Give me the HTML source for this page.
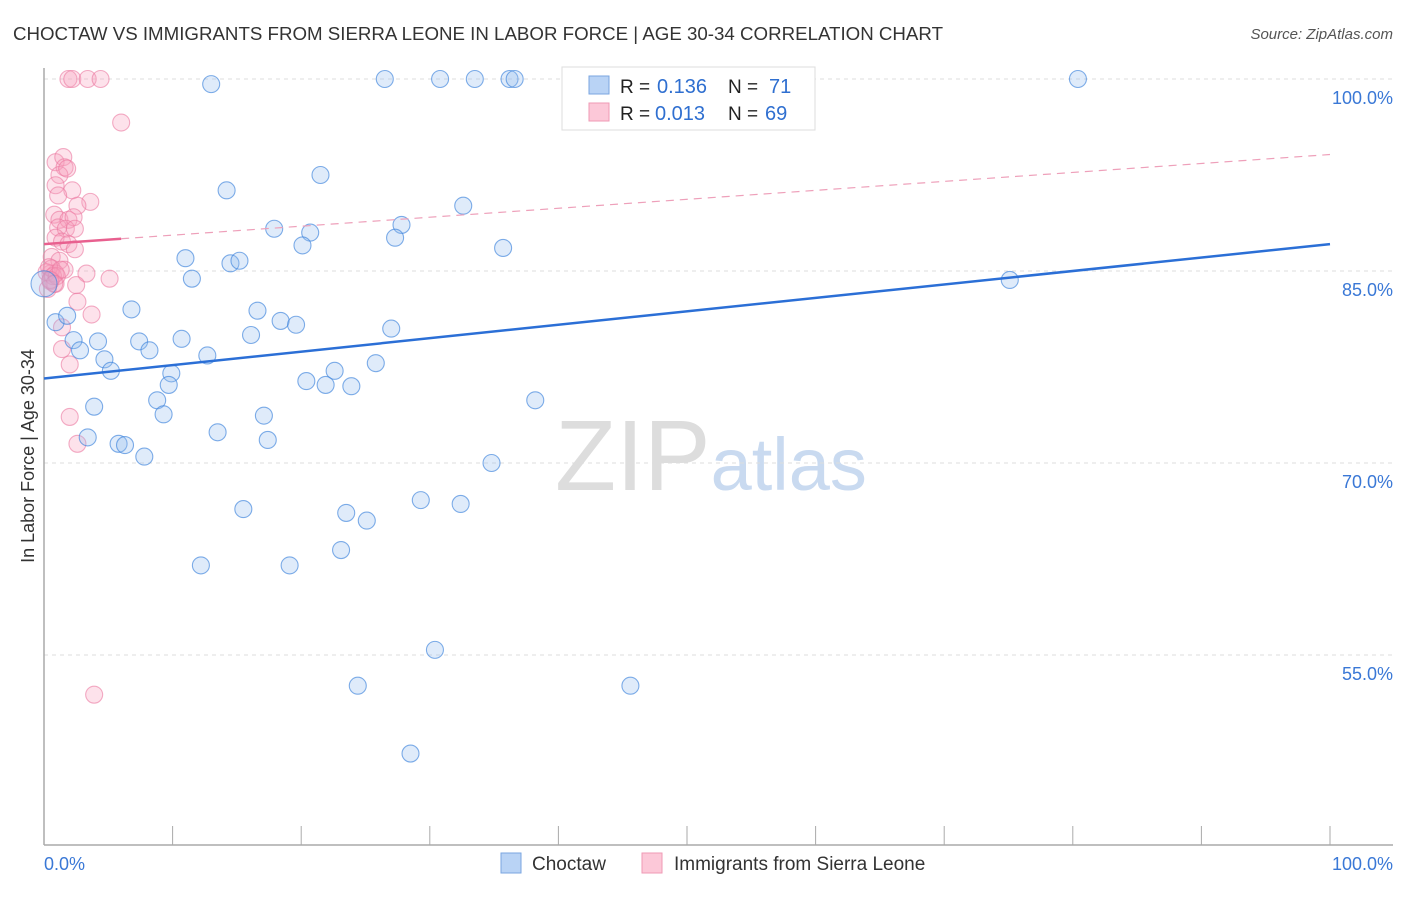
<!DOCTYPE html>
<html><head><meta charset="utf-8"><style>
body{margin:0;background:#fff;font-family:"Liberation Sans",sans-serif;}
svg text{font-family:"Liberation Sans",sans-serif;}
</style></head><body>
<svg id="chart" width="1406" height="892" xmlns="http://www.w3.org/2000/svg">
<text x="13" y="40" font-size="18" fill="#333" textLength="930" lengthAdjust="spacingAndGlyphs">CHOCTAW VS IMMIGRANTS FROM SIERRA LEONE IN LABOR FORCE | AGE 30-34 CORRELATION CHART</text>
<text x="1393" y="39" font-size="15" fill="#555" text-anchor="end" font-style="italic">Source: ZipAtlas.com</text>
<text x="555" y="490" font-size="100" fill="#ddd" font-family="Liberation Serif">ZIP<tspan fill="#c9daf0" font-family="Liberation Sans" font-size="74">atlas</tspan></text>
<text transform="translate(34,456) rotate(-90)" font-size="18" fill="#333" text-anchor="middle">In Labor Force | Age 30-34</text>
<g id="grid"></g><g id="axes"></g><g id="marks"></g>
<g>
<rect x="562" y="67" width="253" height="63" fill="#fff" stroke="#ddd"/>
<rect x="589" y="76" width="20" height="18" fill="#b9d3f5" stroke="#7aa6e0"/>
<rect x="589" y="103" width="20" height="18" fill="#fcc8d8" stroke="#ef9ab5"/>
<text x="620" y="93" font-size="19" fill="#222">R = </text>
<text x="657" y="93" font-size="20" fill="#2f6fd0">0.136</text>
<text x="728" y="93" font-size="19" fill="#222">N = </text>
<text x="769" y="93" font-size="20" fill="#2f6fd0">71</text>
<text x="620" y="120" font-size="19" fill="#222">R = </text>
<text x="655" y="120" font-size="20" fill="#2f6fd0">0.013</text>
<text x="728" y="120" font-size="19" fill="#222">N = </text>
<text x="765" y="120" font-size="20" fill="#2f6fd0">69</text>
</g>
<g>
<rect x="501" y="853" width="20" height="20" fill="#b9d3f5" stroke="#7aa6e0"/>
<text x="532" y="870" font-size="19" fill="#333">Choctaw</text>
<rect x="642" y="853" width="20" height="20" fill="#fcc8d8" stroke="#ef9ab5"/>
<text x="674" y="870" font-size="19" fill="#333">Immigrants from Sierra Leone</text>
</g>
</svg>
<script>
const yTicks=[100,85,70,55];
const xTickLabels=["0.0%","100.0%"];
const blueX=[13.0,26.5,30.8,33.5,36.2,36.6,80.4,14.2,21.5,32.6,17.9,20.7,20.1,27.8,27.3,35.7,11.0,14.5,15.2,11.5,75.1,6.8,16.6,18.4,19.6,27.0,0.9,1.8,2.3,4.2,7.4,10.7,16.1,2.8,8.2,4.7,5.2,12.7,9.9,9.7,20.4,22.6,21.9,23.9,25.8,8.8,9.3,3.9,38.2,17.1,13.5,17.4,3.4,5.8,6.3,7.8,34.8,29.3,32.4,15.5,23.5,25.1,23.1,12.2,19.1,30.4,24.4,45.6,28.5,0.0];
const blueY=[99.6,100,100,100,100,100,100,91.3,92.5,90.1,88.3,88.0,87.0,88.6,87.6,86.8,86.0,85.6,85.8,84.4,84.3,82.0,81.9,81.1,80.8,80.5,81.0,81.5,79.6,79.5,79.5,79.7,80.0,78.8,78.8,78.1,77.2,78.4,77.0,76.1,76.4,77.2,76.1,76.0,77.8,74.9,73.8,74.4,74.9,73.7,72.4,71.8,72.0,71.5,71.4,70.5,70.0,67.1,66.8,66.4,66.1,65.5,63.2,62.0,62.0,55.4,52.6,52.6,47.3,84.0];
const pinkX=[1.9,2.2,3.4,4.4,6.0,0.9,1.5,1.6,1.2,1.8,0.9,2.2,1.1,3.6,2.6,0.8,1.2,1.9,2.3,1.1,1.7,2.4,0.9,1.4,1.9,2.4,0.6,1.2,1.6,0.5,0.5,0.9,0.3,3.3,5.1,2.5,2.6,3.7,1.4,1.4,2.0,2.0,2.6,3.9,0.6,0.9,0.2,0.4,0.7,1.0,1.3,0.5,0.8];
const pinkY=[100,100,100,100,96.6,93.5,93.9,93.1,92.5,93.0,91.7,91.3,90.9,90.4,90.1,89.4,89.0,89.0,89.2,88.4,88.3,88.3,87.6,87.3,87.1,86.7,86.1,85.8,85.1,84.8,84.2,84.0,83.6,84.8,84.4,83.9,82.6,81.6,80.6,78.9,77.7,73.6,71.5,51.9,85.2,84.8,84.9,85.3,84.6,84.6,85.1,84.3,84.0];
const blueLine=[76.6,87.1];
const pinkLine=[87.1,94.1];
const NS="http://www.w3.org/2000/svg";
const X0=44,X1=1330,Y100=79,PXPER=12.8;
const sx=v=>X0+(X1-X0)*v/100;
const sy=v=>Y100+(100-v)*PXPER;
function el(tag,attrs,parent){const e=document.createElementNS(NS,tag);for(const k in attrs)e.setAttribute(k,attrs[k]);parent.appendChild(e);return e;}
const grid=document.getElementById('grid'),axes=document.getElementById('axes'),marks=document.getElementById('marks');
yTicks.forEach(t=>{
 const l=el('line',{x1:44,x2:1393,y1:sy(t),y2:sy(t),stroke:'#ddd','stroke-dasharray':'4,4'},grid);
 
 
 const tx=el('text',{x:1393,y:sy(t)+25,'font-size':18,fill:'#3a78d6','text-anchor':'end'},grid);
 tx.textContent=t.toFixed(1)+'%';
 
 
});
const ax=el('line',{x1:44,x2:1393,y1:845,y2:845,stroke:'#aaa','stroke-width':1.5},axes);


const ay=el('line',{x1:44,x2:44,y1:68,y2:845,stroke:'#aaa','stroke-width':1.5},axes);


for(let i=1;i<=10;i++){const t=el('line',{x1:sx(i*10),x2:sx(i*10),y1:826,y2:845,stroke:'#aaa'},axes);
 
 }
const xl0=el('text',{x:44,y:870,'font-size':18,fill:'#3a78d6'},axes);xl0.textContent=xTickLabels[0];


const xl1=el('text',{x:1393,y:870,'font-size':18,fill:'#3a78d6','text-anchor':'end'},axes);xl1.textContent=xTickLabels[1];


pinkX.forEach((x,i)=>{const c=el('circle',{cx:sx(x),cy:sy(pinkY[i]),r:8.5,fill:'rgba(247,160,190,0.3)',stroke:'rgba(235,120,160,0.6)','stroke-width':1.1},marks);
 
 });
blueX.forEach((x,i)=>{const c=el('circle',{cx:sx(x),cy:sy(blueY[i]),r:i===blueX.length-1?13:8.5,fill:'rgba(150,190,240,0.3)',stroke:'rgba(60,130,220,0.65)','stroke-width':1.1},marks);
 
 });
const bl=el('line',{x1:sx(0),y1:sy(blueLine[0]),x2:sx(100),y2:sy(blueLine[1]),stroke:'#2b6fd6','stroke-width':2.5},marks);


const pm=pinkLine[0]+(pinkLine[1]-pinkLine[0])*0.06;
const pl=el('line',{x1:sx(0),y1:sy(pinkLine[0]),x2:sx(6),y2:sy(pm),stroke:'#e8608f','stroke-width':2.5},marks);


const pd=el('line',{x1:sx(6),y1:sy(pm),x2:sx(100),y2:sy(pinkLine[1]),stroke:'#eea0ba','stroke-width':1.2,'stroke-dasharray':'8,6'},marks);


</script>
</body></html>
